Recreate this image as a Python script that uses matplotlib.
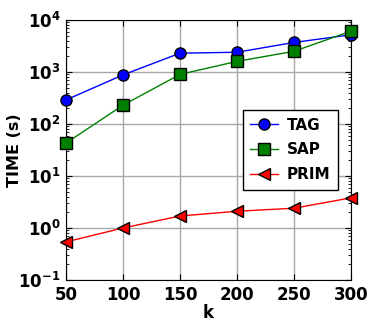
import matplotlib
matplotlib.use("Agg")
import matplotlib.pyplot as plt

k = [50, 100, 150, 200, 250, 300]
tag = [290, 880, 2300, 2400, 3700, 5200]
sap = [43, 230, 900, 1600, 2500, 6100]
prim = [0.54, 1.0, 1.7, 2.1, 2.4, 3.8]

plt.rcParams['font.family'] = ['DejaVu Sans']
plt.rcParams['font.weight'] = 'bold'
plt.rcParams['mathtext.default'] = 'bf'
plt.rcParams['axes.unicode_minus'] = False
plt.rcParams['xtick.direction'] = 'in'
plt.rcParams['ytick.direction'] = 'in'
plt.rcParams['xtick.top'] = True
plt.rcParams['ytick.right'] = True

fig = plt.figure(figsize=(3.71, 3.21), dpi=100)
ax = fig.add_axes([66/371, 1-280/321, (351-66)/371, (280-20)/321])

ms = 8
ax.plot(k, tag, '-o', color='blue', mfc='blue', mec='black', ms=ms, lw=1, label='TAG', clip_on=False, zorder=3)
ax.plot(k, sap, '-s', color='green', mfc='green', mec='black', ms=ms, lw=1, label='SAP', clip_on=False, zorder=3)
ax.plot(k, prim, '-<', color='red', mfc='red', mec='black', ms=ms, lw=1, label='PRIM', clip_on=False, zorder=3)

ax.set_yscale('log')
ax.set_ylim(0.1, 1e4)
ax.set_xlim(50, 300)
ax.set_xticks(k)
ax.grid(True, color='#a8a8a8', lw=1, ls='-')
ax.set_axisbelow(True)
ax.tick_params(axis='both', which='major', labelsize=12, length=4)
ax.tick_params(axis='y', which='major', pad=4)
ax.tick_params(axis='x', which='major', pad=4)
ax.tick_params(axis='both', which='minor', length=2)
for lab in ax.get_xticklabels() + ax.get_yticklabels():
    lab.set_fontweight('bold')
ax.set_xlabel('k', fontsize=12, fontweight='bold', labelpad=0)
ax.set_ylabel('TIME (s)', fontsize=11.5, fontweight='bold')
ax.yaxis.set_label_coords(-0.155, 0.5)

leg = ax.legend(loc='center right', bbox_to_anchor=(0.982, 0.5), fancybox=False,
                framealpha=1, edgecolor='black', numpoints=1, handlelength=1.8,
                borderpad=0.5, labelspacing=0.65, handletextpad=0.6,
                prop={'weight': 'bold', 'size': 11})
leg.get_frame().set_linewidth(1)

fig.savefig('out.png', dpi=100)
